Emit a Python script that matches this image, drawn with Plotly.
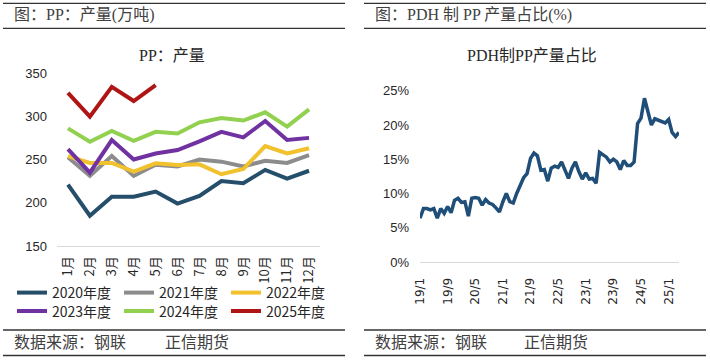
import plotly.graph_objects as go

# ---------------- data ----------------
months = ["1月", "2月", "3月", "4月", "5月", "6月", "7月", "8月", "9月", "10月", "11月", "12月"]
y2020 = [221, 185, 207, 207, 213, 199, 208, 225, 222.5, 238, 228, 237]
y2021 = [252.5, 231, 254, 231, 244, 242, 250, 247.5, 242, 248.6, 246, 255]
y2022 = [254, 246, 246, 236, 245.6, 243.6, 244.4, 233, 239, 265.6, 257, 263]
y2023 = [262, 234.7, 272.5, 250, 257, 261, 271, 282, 275.6, 294.5, 272.5, 275]
y2024 = [286, 270.6, 283, 271.7, 282, 280, 293, 298, 295, 304.6, 288, 308]
y2025 = [327, 299.5, 334, 317.6, 336]

series_names = ["2020年度", "2021年度", "2022年度", "2023年度", "2024年度", "2025年度"]
series_vals = [y2020, y2021, y2022, y2023, y2024, y2025]
series_colors = ["#254e6b", "#8c8c8c", "#f2c12e", "#7032a0", "#92d050", "#b01515"]
left_ticks = [150, 200, 250, 300, 350]

pdh_share = [6.4, 7.8, 7.8, 7.6, 7.8, 6.4, 7.8, 7.1, 8.1, 7.2,
             9.0, 9.3, 8.7, 8.8, 6.7, 9.3, 9.4, 9.3, 8.3, 9.1,
             8.6, 8.4, 7.9, 7.3, 8.8, 10.0, 8.8, 8.6, 10.0, 11.2,
             12.3, 12.9, 15.1, 15.9, 15.5, 13.4, 13.5, 11.8, 13.7, 14.0,
             13.8, 14.6, 13.4, 12.2, 13.7, 14.6, 13.2, 12.1, 13.0, 12.1,
             12.2, 11.5, 16.0, 15.7, 15.3, 14.6, 15.0, 14.6, 13.5, 14.8,
             14.1, 14.1, 14.6, 20.2, 21.0, 23.9, 21.9, 20.0, 20.9, 20.7,
             20.5, 20.3, 20.8, 18.9, 18.3, 18.9]
pdh_months = [f"{19 + (k // 12)}/{k % 12 + 1}" for k in range(len(pdh_share))]
pdh_ticks = ["19/1", "19/9", "20/5", "21/1", "21/9", "22/5", "23/1", "23/9", "24/5", "25/1"]
pdh_yticks = [0, 5, 10, 15, 20, 25]
pdh_yticktext = ["0%", "5%", "10%", "15%", "20%", "25%"]

W, H = 710, 360
CJK = "Noto Sans CJK SC"
SERIF = "Liberation Serif, Noto Sans CJK SC"
TXT = "#262626"

def px(x):
    return x / W

def py(y):
    return 1 - y / H

fig = go.Figure()

for i, (name, vals, col) in enumerate(zip(series_names, series_vals, series_colors)):
    fig.add_trace(go.Scatter(
        x=months[:len(vals)], y=vals, name=name, mode="lines",
        line=dict(color=col, width=4),
        xaxis="x", yaxis="y",
        legend="legend" if i < 3 else "legend2",
        hoverinfo="skip",
    ))

fig.add_trace(go.Scatter(
    x=pdh_months, y=pdh_share, mode="lines", showlegend=False,
    line=dict(color="#1f4e79", width=3.5),
    xaxis="x2", yaxis="y2", hoverinfo="skip",
))

axis_common = dict(showgrid=False, zeroline=False, ticks="", fixedrange=True, automargin=False)

fig.update_layout(
    width=W, height=H,
    margin=dict(l=0, r=0, t=0, b=0, pad=0, autoexpand=False),
    paper_bgcolor="white", plot_bgcolor="white",
    font=dict(family=CJK, color=TXT),
    xaxis=dict(domain=[px(57), px(320)], anchor="y", type="category",
               range=[-0.5, 11.5], showline=True, linecolor="#d9d9d9", linewidth=1,
               tickangle=-90, tickfont=dict(family=CJK, size=13, color=TXT),
               ticklabelstandoff=4, **axis_common),
    yaxis=dict(domain=[py(246), py(73)], anchor="x", range=[150, 350],
               tickvals=left_ticks, showline=False,
               tickfont=dict(family="Liberation Sans", size=13, color=TXT),
               ticklabelstandoff=9, **axis_common),
    xaxis2=dict(domain=[px(420), px(679)], anchor="y2", type="category",
                range=[0, len(pdh_share) - 1], showline=True, linecolor="#d9d9d9", linewidth=1,
                tickvals=pdh_ticks, ticktext=pdh_ticks, tickangle=-90,
                tickfont=dict(family="DejaVu Sans", size=12, color=TXT),
                ticklabelstandoff=10, **axis_common),
    yaxis2=dict(domain=[py(262), py(90.7)], anchor="x2", range=[0, 25],
                tickvals=pdh_yticks, ticktext=pdh_yticktext, showline=False,
                tickfont=dict(family="Liberation Sans", size=13, color=TXT),
                ticklabelstandoff=10, **axis_common),
    legend=dict(orientation="h", x=px(12), y=py(293), xanchor="left", yanchor="middle",
                entrywidth=62, font=dict(family=CJK, size=14, color=TXT),
                bgcolor="rgba(0,0,0,0)", traceorder="normal", itemclick=False, itemdoubleclick=False),
    legend2=dict(orientation="h", x=px(12), y=py(311.5), xanchor="left", yanchor="middle",
                 entrywidth=62, font=dict(family=CJK, size=14, color=TXT),
                 bgcolor="rgba(0,0,0,0)", traceorder="normal", itemclick=False, itemdoubleclick=False),
    showlegend=True,
)

# header/footer rules
shapes = []
for (x0, x1) in [(3, 345), (364, 706)]:
    for yy in [3.3, 28.3, 330, 355.5]:
        shapes.append(dict(type="line", xref="paper", yref="paper",
                           x0=px(x0), x1=px(x1), y0=py(yy), y1=py(yy),
                           line=dict(color="#333333", width=1.3)))
fig.update_layout(shapes=shapes)

ann = [
    dict(text="图：PP：产量(万吨)", x=px(12), y=py(15)),
    dict(text="图：PDH 制 PP 产量占比(%)", x=px(373), y=py(15)),
    dict(text="数据来源：钢联", x=px(12), y=py(342)),
    dict(text="正信期货", x=px(163), y=py(342)),
    dict(text="数据来源：钢联", x=px(373), y=py(342)),
    dict(text="正信期货", x=px(522), y=py(342)),
]
for a in ann:
    fig.add_annotation(xref="paper", yref="paper", xanchor="left", yanchor="middle",
                       showarrow=False, font=dict(family=SERIF, size=16, color="#404040"), **a)

fig.add_annotation(text="PP：产量", x=px(172), y=py(55), xref="paper", yref="paper",
                   xanchor="center", yanchor="middle", showarrow=False,
                   font=dict(family=SERIF, size=16, color=TXT))
fig.add_annotation(text="PDH制PP产量占比", x=px(532), y=py(55), xref="paper", yref="paper",
                   xanchor="center", yanchor="middle", showarrow=False,
                   font=dict(family=SERIF, size=16, color=TXT))

fig.write_html("out.html", config={"displayModeBar": False, "staticPlot": True},
               post_script="document.body.style.margin='0';document.body.style.overflow='hidden';")
